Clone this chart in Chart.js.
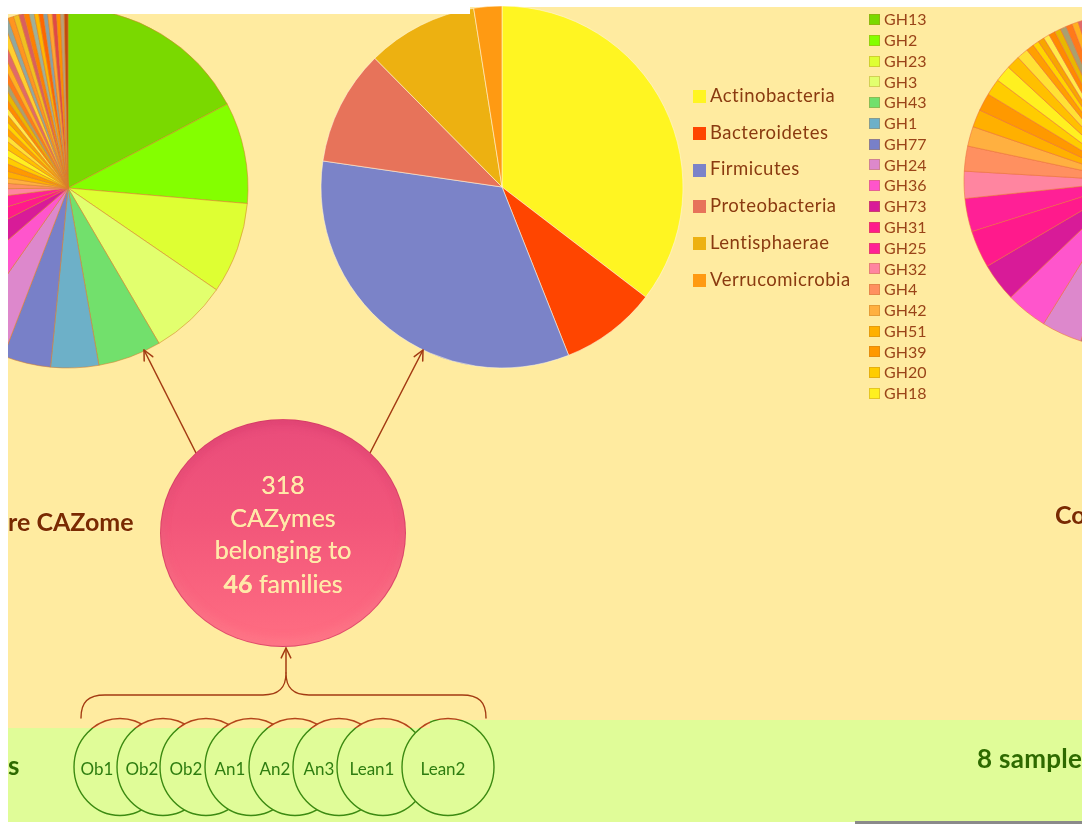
<!DOCTYPE html>
<html><head><meta charset="utf-8">
<script src="https://cdn.jsdelivr.net/npm/chart.js@4.4.1/dist/chart.umd.min.js"></script>
<style>
html,body{margin:0;padding:0;background:#fff;overflow:hidden;}
#stage{position:relative;width:1082px;height:824px;overflow:hidden;background:#fff;font-family:Lato,'Open Sans',sans-serif;}
.abs{position:absolute;}
.brown{color:#7A2A00;font-weight:700;font-size:25px;line-height:25px;white-space:nowrap;text-shadow:0 0 2px #fff3c8;}
.dgreen{color:#2E6A00;font-weight:700;font-size:26px;line-height:26px;letter-spacing:0.3px;white-space:nowrap;}
.ctext{color:#FFE9A8;font-size:25px;line-height:25px;width:246px;text-align:center;left:160px;white-space:nowrap;text-shadow:0 0 0.6px #FFE9A8;}
.slab{color:#2E7D10;font-size:17px;line-height:17px;white-space:nowrap;transform:translateX(-50%);}
</style></head><body>
<div id="stage">
  <div class="abs" style="left:8px;top:14px;width:462px;height:714px;background:#FFEBA0"></div>
  <div class="abs" style="left:470px;top:7px;width:612px;height:713px;background:#FFEBA0"></div>
  <div class="abs" style="left:8px;top:728px;width:422px;height:94px;background:#E0FC98"></div>
  <div class="abs" style="left:430px;top:720px;width:652px;height:102px;background:#E0FC98"></div>
  <div class="abs" style="left:855px;top:821px;width:227px;height:3px;background:#8a8a8a"></div>

  <canvas id="corePie" class="abs" width="380" height="380" style="left:-122px;top:-2px;width:380px;height:380px"></canvas>
  <canvas id="phylaPie" class="abs" width="380" height="380" style="left:312px;top:-3px;width:380px;height:380px"></canvas>
  <canvas id="fullPie" class="abs" width="380" height="380" style="left:942px;top:-9px;width:380px;height:380px"></canvas>

  <div class="abs" style="left:0;top:0;width:470px;height:14px;background:#fff"></div>
  <div class="abs" style="left:470px;top:0;width:612px;height:6px;background:#fff"></div>
  <div class="abs" style="left:0;top:0;width:8px;height:824px;background:#fff"></div>

  <canvas id="deco" class="abs" width="1082" height="824" style="left:0;top:0;width:1082px;height:824px"></canvas>

  <div class="abs" style="left:160px;top:419px;width:246px;height:228px;border-radius:50%;background:linear-gradient(180deg,#E94C7B 0%,#F2567A 45%,#FF6E82 100%);box-shadow:inset 0 -6px 10px rgba(255,140,150,0.35), inset 0 4px 8px rgba(190,40,90,0.25);border:1px solid rgba(200,50,90,0.55);box-sizing:border-box"></div>
  <div class="abs ctext" style="top:472px">318</div>
  <div class="abs ctext" style="top:505px">CAZymes</div>
  <div class="abs ctext" style="top:537px">belonging to</div>
  <div class="abs ctext" style="top:571px"><b>46</b> families</div>

  <div class="abs brown" style="left:8px;top:509px">re CAZome</div>
  <div class="abs brown" style="left:1055px;top:502px">Co</div>
  <div class="abs dgreen" style="left:977px;top:745px">8 samples</div>
  <div class="abs dgreen" style="left:8px;top:752px">s</div>

  <div id="sampleLabels"></div>
  <div id="phylaLegend"></div>
  <div id="ghLegend"></div>
</div>
<script>
// ---------------- DATA ----------------
const phyla = ['Actinobacteria','Bacteroidetes','Firmicutes','Proteobacteria','Lentisphaerae','Verrucomicrobia'];
const phylaShare = [35.4, 8.6, 33.3, 10.3, 9.9, 2.5];
const phylaColors = ['#FFF522','#FF4500','#7B83C8','#E7735A','#EDB111','#FF9A12'];

const ghFamilies = ['GH13','GH2','GH23','GH3','GH43','GH1','GH77','GH24','GH36','GH73','GH31','GH25','GH32','GH4','GH42','GH51','GH39','GH20','GH18'];
const ghColors = ['#7AD900','#84FF00','#DEFF33','#E2FF6E','#72E06C','#6DB0C8','#7880C8','#DD88CC','#FF55CC','#D81B98','#FF1A8C','#FF2096','#FF85A0','#FF9060','#FFB040','#FFB000','#FF9900','#FFCC00','#FFF020'];
const otherFamilies = ['Other family 1','Other family 2','Other family 3','Other family 4','Other family 5','Other family 6','Other family 7','Other family 8','Other family 9','Other family 10','Other family 11','Other family 12','Other family 13','Other family 14','Other family 15','Other family 16','Other family 17','Other family 18','Other family 19','Other family 20','Other family 21','Other family 22','Other family 23','Other family 24','Other family 25','Other family 26','Other family 27'];
const otherColors = ['#FFC000','#FFE135','#FF9F00','#FFD400','#F7A600','#FFEA4A','#FF8A00','#E8B800','#A8A070','#FF7A1A','#FFB020','#E06A6A','#FFCF30','#8FA8A0','#FF9520','#F0C020','#D95F5F','#FF8000','#9FB098','#FFB800','#FF6600','#88A0A8','#FFA530','#E04848','#FF9000','#B8A078','#C04A10'];

// core CAZome (left pie), % of CAZymes
const coreShareGH = [17.3, 9.1, 8.2, 7.0, 5.7, 4.3, 4.3, 3.9, 3.9, 3.8, 2.8, 2.8, 1.8, 1.4, 1.4, 1.7, 1.7, 1.5, 1.5];
const coreShareOther = [1.4, 1.0, 1.0, 0.8, 0.8, 0.7, 0.7, 0.7, 0.6, 0.6, 0.6, 0.6, 0.6, 0.5, 0.5, 0.5, 0.45, 0.45, 0.45, 0.4, 0.4, 0.4, 0.4, 0.4, 0.35, 0.35, 0.35];
// complete CAZome (right pie), % of CAZymes
const fullShareGH = [17.0, 8.9, 8.0, 6.9, 5.6, 4.2, 4.3, 3.9, 4.0, 3.7, 3.6, 3.2, 2.6, 2.4, 1.9, 1.7, 1.7, 1.6, 1.6];
const fullShareOther = [1.3, 1.1, 0.75, 0.6, 0.6, 0.6, 0.6, 0.6, 0.6, 0.6, 0.6, 0.45, 0.45, 0.45, 0.45, 0.45, 0.45, 0.45, 0.45, 0.2, 0.2, 0.2, 0.2, 0.2, 0.2, 0.2, 0.2];

const sampleNames = ['Ob1','Ob2','Ob2','An1','An2','An3','Lean1','Lean2'];

// ---------------- CHARTS ----------------
const famLabels = ghFamilies.concat(otherFamilies);
const famColors = ghColors.concat(otherColors);

function pie(id, labels, values, colors, radius, border, bw){
  return new Chart(document.getElementById(id), {
    type: 'pie',
    data: { labels: labels, datasets: [{ data: values, backgroundColor: colors, borderColor: border, borderWidth: bw, radius: radius }] },
    options: {
      responsive: false, animation: false, devicePixelRatio: 1, events: [],
      radius: radius,
      layout: { padding: 0 },
      plugins: { legend: { display: false }, tooltip: { enabled: false } }
    }
  });
}
pie('corePie', famLabels, coreShareGH.concat(coreShareOther), famColors, 180, 'rgba(215,125,45,0.55)', 1);
pie('phylaPie', phyla, phylaShare, phylaColors, 181, 'rgba(255,246,220,0.7)', 0.8);
pie('fullPie', famLabels, fullShareGH.concat(fullShareOther), famColors, 168, 'rgba(235,110,60,0.55)', 1);

// ---------------- LEGENDS ----------------
const pl = document.getElementById('phylaLegend');
phyla.forEach((name, i) => {
  const y = 90 + i * 36.8;
  pl.insertAdjacentHTML('beforeend',
    `<div class="abs" style="left:693px;top:${y}px;width:13px;height:13px;background:${phylaColors[i]}"></div>` +
    `<div class="abs" style="left:710px;top:${y - 4.3}px;font-size:18.5px;line-height:18.5px;letter-spacing:0.5px;color:#8A3A10;white-space:nowrap">${name}</div>`);
});
const gl = document.getElementById('ghLegend');
ghFamilies.forEach((name, i) => {
  const y = 14 + i * 20.78;
  gl.insertAdjacentHTML('beforeend',
    `<div class="abs" style="left:869px;top:${y}px;width:11px;height:11px;background:${ghColors[i]};box-shadow:inset 0 0 0 1px rgba(180,120,40,0.35)"></div>` +
    `<div class="abs" style="left:884px;top:${y - 2.8}px;font-size:16px;line-height:16px;color:#9A4418;white-space:nowrap">${name}</div>`);
});

// ---------------- DECORATION ----------------
const sampleCx = [120, 163, 206, 251, 295, 339, 383, 448];
const sampleLabelX = [97, 142, 186, 230, 275, 319, 372, 443];
const sl = document.getElementById('sampleLabels');
sampleNames.forEach((n, i) => {
  sl.insertAdjacentHTML('beforeend', `<div class="abs slab" style="left:${sampleLabelX[i]}px;top:760px">${n}</div>`);
});

const ctx = document.getElementById('deco').getContext('2d');
const brown = '#A33A12';
ctx.lineCap = 'round'; ctx.lineJoin = 'round';
function arrow(x1, y1, x2, y2){
  ctx.strokeStyle = brown; ctx.lineWidth = 1.5;
  ctx.beginPath(); ctx.moveTo(x1, y1); ctx.lineTo(x2, y2); ctx.stroke();
  const a = Math.atan2(y2 - y1, x2 - x1), L = 11;
  ctx.beginPath();
  ctx.moveTo(x2 - L * Math.cos(a - 0.45), y2 - L * Math.sin(a - 0.45));
  ctx.lineTo(x2, y2);
  ctx.lineTo(x2 - L * Math.cos(a + 0.45), y2 - L * Math.sin(a + 0.45));
  ctx.stroke();
}
arrow(196, 453, 144, 350);
arrow(370, 453, 423, 350);
arrow(286, 673, 286, 648);

// brace
ctx.strokeStyle = brown; ctx.lineWidth = 1.4;
ctx.beginPath();
ctx.moveTo(81, 718);
ctx.bezierCurveTo(81, 702, 88, 695, 105, 695);
ctx.lineTo(263, 695);
ctx.bezierCurveTo(279, 695, 286, 688, 286, 673);
ctx.bezierCurveTo(286, 688, 293, 695, 309, 695);
ctx.lineTo(462, 695);
ctx.bezierCurveTo(479, 695, 486, 702, 486, 718);
ctx.stroke();

// sample ellipses
function clipAbove(){ ctx.beginPath(); ctx.rect(0, 0, 430, 728); ctx.rect(430, 0, 652, 720); ctx.clip(); }
function clipBelow(){ ctx.beginPath(); ctx.rect(0, 728, 430, 96); ctx.rect(430, 720, 652, 104); ctx.clip(); }
ctx.save(); clipAbove();
sampleCx.forEach(cx => {
  ctx.beginPath(); ctx.ellipse(cx, 767, 46, 48.5, 0, 0, Math.PI * 2);
  ctx.fillStyle = '#FFEBA0'; ctx.fill();
  ctx.strokeStyle = '#B4441A'; ctx.lineWidth = 1.5; ctx.stroke();
});
ctx.restore();
ctx.save(); clipBelow();
sampleCx.forEach(cx => {
  ctx.beginPath(); ctx.ellipse(cx, 767, 46, 48.5, 0, 0, Math.PI * 2);
  ctx.fillStyle = '#E0FC98'; ctx.fill();
  ctx.strokeStyle = '#3C8A12'; ctx.lineWidth = 1.4; ctx.stroke();
});
ctx.restore();
</script>
</body></html>
